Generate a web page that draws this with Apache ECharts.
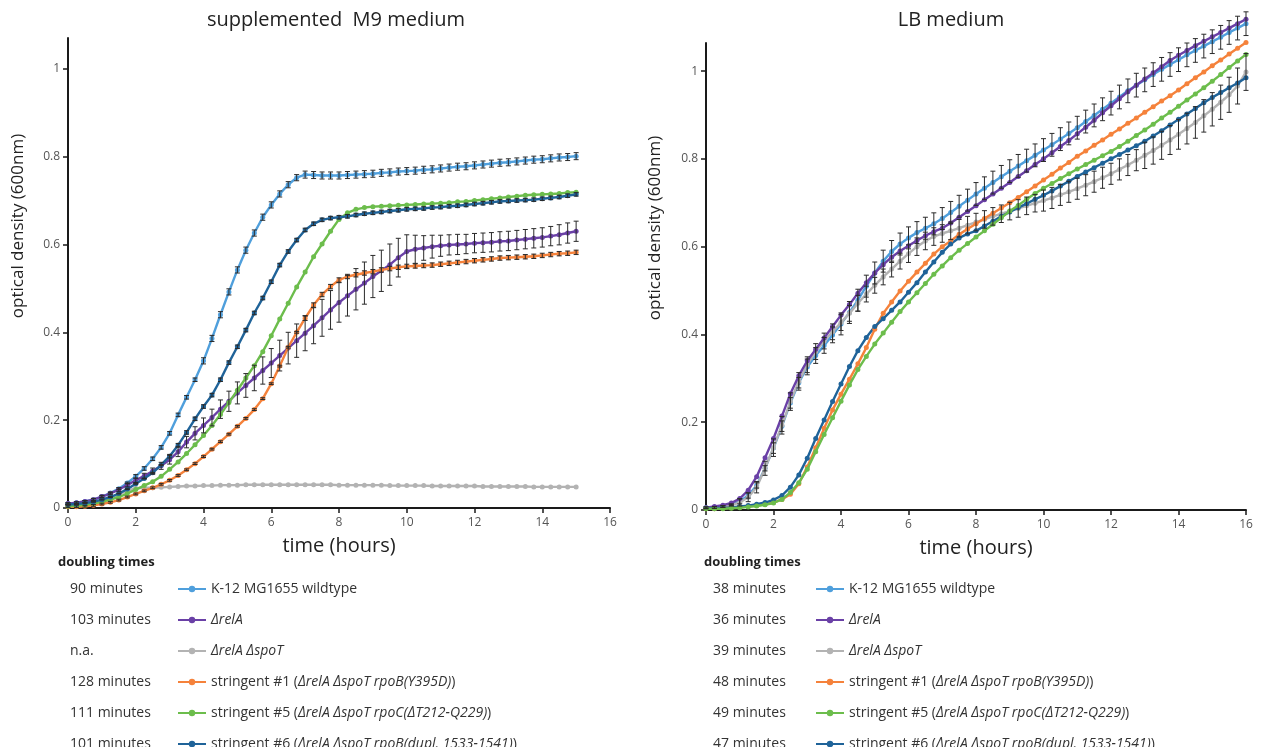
<!DOCTYPE html>
<html>
<head>
<meta charset="utf-8">
<title>Growth curves</title>
<script src="https://cdn.jsdelivr.net/npm/echarts@6/dist/echarts.min.js"></script>
<style>
  html, body { margin: 0; padding: 0; background: #fff; }
  #chart { width: 1261px; height: 755px; }
</style>
</head>
<body>
<div id="chart"></div>
<script>
// Sampling times (hours), one reading every 15 minutes
const hours = [0,0.25,0.5,0.75,1,1.25,1.5,1.75,2,2.25,2.5,2.75,3,3.25,3.5,3.75,4,4.25,4.5,4.75,5,5.25,5.5,5.75,6,6.25,6.5,6.75,7,7.25,7.5,7.75,8,8.25,8.5,8.75,9,9.25,9.5,9.75,10,10.25,10.5,10.75,11,11.25,11.5,11.75,12,12.25,12.5,12.75,13,13.25,13.5,13.75,14,14.25,14.5,14.75,15,15.25,15.5,15.75,16];

const xTicks = [0, 2, 4, 6, 8, 10, 12, 14, 16];
const yTicks = [0, 0.2, 0.4, 0.6, 0.8, 1];

// Strains (series names) and their colours
const strains = [
  'K-12 MG1655 wildtype',
  'ΔrelA',
  'ΔrelA ΔspoT',
  'stringent #1 (ΔrelA ΔspoT rpoB(Y395D))',
  'stringent #5 (ΔrelA ΔspoT rpoC(ΔT212-Q229))',
  'stringent #6 (ΔrelA ΔspoT rpoB(dupl. 1533-1541))'
];
const strainColors = ['#4f9fdc', '#6a40a6', '#b3b3b3', '#f5823b', '#6cbd4c', '#1f6399'];
const strainLabels = [
  'K-12 MG1655 wildtype',
  '{i|ΔrelA}',
  '{i|ΔrelA ΔspoT}',
  'stringent #1 ({i|ΔrelA ΔspoT rpoB(Y395D)})',
  'stringent #5 ({i|ΔrelA ΔspoT rpoC(ΔT212-Q229)})',
  'stringent #6 ({i|ΔrelA ΔspoT rpoB(dupl. 1533-1541)})'
];

// Doubling times per medium
const doublingM9 = ['90 minutes', '103 minutes', 'n.a.', '128 minutes', '111 minutes', '101 minutes'];
const doublingLB = ['38 minutes', '36 minutes', '39 minutes', '48 minutes', '49 minutes', '47 minutes'];

// ---- supplemented M9 medium, OD600, 0-15 h ----
const m9Wildtype = [0.010,0.012,0.015,0.019,0.026,0.034,0.044,0.057,0.072,0.090,0.112,0.138,0.170,0.212,0.252,0.292,0.335,0.386,0.440,0.492,0.542,0.587,0.626,0.662,0.690,0.715,0.736,0.752,0.759,0.758,0.757,0.757,0.757,0.758,0.759,0.760,0.761,0.763,0.764,0.766,0.767,0.768,0.770,0.771,0.773,0.775,0.777,0.778,0.780,0.782,0.784,0.786,0.787,0.789,0.791,0.793,0.794,0.796,0.798,0.799,0.801];
const m9RelA = [0.010,0.012,0.015,0.019,0.026,0.033,0.042,0.052,0.063,0.073,0.084,0.096,0.110,0.128,0.150,0.170,0.188,0.206,0.225,0.243,0.262,0.279,0.296,0.313,0.330,0.347,0.364,0.381,0.398,0.415,0.433,0.451,0.468,0.483,0.498,0.512,0.527,0.540,0.554,0.570,0.584,0.589,0.592,0.595,0.597,0.599,0.600,0.601,0.603,0.604,0.605,0.607,0.608,0.610,0.612,0.614,0.616,0.619,0.622,0.626,0.630];
const m9RelASpoT = [0.010,0.010,0.011,0.013,0.017,0.023,0.031,0.039,0.045,0.046,0.046,0.047,0.048,0.049,0.050,0.050,0.051,0.051,0.052,0.052,0.052,0.053,0.053,0.053,0.053,0.053,0.053,0.053,0.053,0.053,0.053,0.053,0.052,0.052,0.052,0.052,0.052,0.052,0.051,0.051,0.051,0.051,0.051,0.050,0.050,0.050,0.050,0.050,0.050,0.049,0.049,0.049,0.049,0.049,0.049,0.048,0.048,0.048,0.048,0.048,0.048];
const m9Stringent1 = [0.003,0.003,0.004,0.006,0.009,0.013,0.018,0.025,0.032,0.039,0.046,0.054,0.063,0.074,0.087,0.101,0.117,0.134,0.151,0.168,0.186,0.204,0.224,0.249,0.283,0.323,0.366,0.400,0.432,0.462,0.486,0.504,0.519,0.527,0.531,0.535,0.538,0.542,0.545,0.548,0.550,0.551,0.552,0.553,0.555,0.557,0.559,0.561,0.563,0.565,0.567,0.569,0.570,0.571,0.572,0.573,0.575,0.577,0.579,0.580,0.582];
const m9Stringent5 = [0.004,0.005,0.007,0.010,0.014,0.019,0.025,0.033,0.042,0.051,0.060,0.072,0.088,0.105,0.124,0.144,0.165,0.188,0.213,0.240,0.268,0.296,0.324,0.356,0.392,0.430,0.466,0.503,0.537,0.572,0.601,0.630,0.657,0.672,0.680,0.684,0.686,0.687,0.688,0.689,0.690,0.691,0.692,0.693,0.694,0.695,0.697,0.698,0.700,0.702,0.704,0.706,0.708,0.710,0.712,0.713,0.714,0.715,0.716,0.718,0.719];
const m9Stringent6 = [0.008,0.009,0.011,0.014,0.019,0.025,0.033,0.043,0.055,0.067,0.080,0.098,0.118,0.143,0.172,0.203,0.231,0.257,0.292,0.331,0.367,0.405,0.444,0.478,0.515,0.553,0.584,0.610,0.633,0.647,0.656,0.660,0.662,0.664,0.667,0.670,0.672,0.674,0.676,0.678,0.680,0.681,0.682,0.684,0.685,0.687,0.688,0.690,0.692,0.694,0.696,0.698,0.699,0.700,0.701,0.702,0.704,0.706,0.708,0.711,0.714];

// Standard deviations (M9)
const m9WildtypeSd = [0.002,0.002,0.002,0.002,0.002,0.002,0.002,0.002,0.004,0.004,0.004,0.004,0.004,0.004,0.004,0.004,0.007,0.007,0.007,0.007,0.007,0.007,0.007,0.007,0.007,0.007,0.007,0.007,0.008,0.008,0.008,0.008,0.008,0.008,0.008,0.008,0.008,0.008,0.008,0.008,0.008,0.008,0.008,0.008,0.008,0.008,0.008,0.008,0.008,0.008,0.008,0.008,0.008,0.008,0.008,0.008,0.008,0.008,0.008,0.008,0.008];
const m9RelASd = [0.002,0.002,0.002,0.003,0.003,0.003,0.004,0.004,0.005,0.006,0.007,0.008,0.010,0.011,0.013,0.015,0.017,0.019,0.021,0.023,0.025,0.027,0.029,0.031,0.033,0.035,0.036,0.038,0.040,0.041,0.042,0.044,0.045,0.046,0.047,0.048,0.048,0.047,0.047,0.044,0.038,0.032,0.028,0.026,0.024,0.023,0.023,0.022,0.022,0.022,0.022,0.022,0.022,0.022,0.022,0.022,0.022,0.022,0.023,0.023,0.023];
const m9Stringent1Sd = [0.002,0.002,0.002,0.002,0.002,0.002,0.002,0.002,0.002,0.002,0.002,0.002,0.002,0.002,0.002,0.002,0.002,0.002,0.002,0.002,0.002,0.002,0.002,0.002,0.002,0.002,0.002,0.002,0.005,0.005,0.005,0.005,0.005,0.005,0.005,0.005,0.005,0.005,0.005,0.005,0.005,0.005,0.005,0.005,0.005,0.005,0.005,0.005,0.005,0.005,0.005,0.005,0.005,0.005,0.005,0.005,0.005,0.005,0.005,0.005,0.005];
const m9Stringent6Sd = [0.001,0.001,0.001,0.001,0.001,0.001,0.001,0.001,0.001,0.001,0.001,0.001,0.004,0.004,0.004,0.004,0.004,0.004,0.004,0.004,0.004,0.004,0.004,0.004,0.004,0.004,0.004,0.004,0.004,0.004,0.004,0.004,0.004,0.004,0.004,0.004,0.004,0.004,0.004,0.004,0.004,0.004,0.004,0.004,0.004,0.004,0.004,0.004,0.004,0.004,0.004,0.004,0.004,0.004,0.004,0.004,0.004,0.004,0.004,0.004,0.004];

// ---- LB medium, OD600, 0-16 h ----
const lbWildtype = [0.005,0.006,0.008,0.012,0.020,0.033,0.056,0.095,0.141,0.191,0.244,0.290,0.326,0.352,0.375,0.399,0.424,0.450,0.478,0.510,0.540,0.567,0.589,0.606,0.620,0.632,0.642,0.652,0.664,0.678,0.692,0.706,0.720,0.733,0.746,0.759,0.772,0.784,0.796,0.808,0.820,0.832,0.845,0.858,0.871,0.885,0.899,0.913,0.927,0.941,0.955,0.968,0.980,0.992,1.004,1.015,1.026,1.037,1.047,1.057,1.067,1.077,1.088,1.098,1.108];
const lbRelA = [0.005,0.008,0.011,0.016,0.026,0.045,0.076,0.119,0.163,0.214,0.265,0.306,0.340,0.366,0.392,0.418,0.444,0.468,0.494,0.518,0.540,0.559,0.576,0.590,0.602,0.614,0.625,0.634,0.642,0.654,0.667,0.680,0.693,0.707,0.720,0.733,0.746,0.760,0.773,0.787,0.800,0.814,0.828,0.842,0.857,0.872,0.888,0.905,0.921,0.937,0.953,0.968,0.982,0.996,1.010,1.024,1.036,1.047,1.058,1.068,1.078,1.088,1.098,1.108,1.118];
const lbRelASpoT = [0.005,0.006,0.008,0.011,0.017,0.029,0.052,0.095,0.142,0.193,0.247,0.293,0.331,0.361,0.385,0.406,0.427,0.448,0.471,0.492,0.512,0.531,0.549,0.567,0.584,0.600,0.613,0.623,0.630,0.636,0.642,0.649,0.656,0.662,0.669,0.675,0.681,0.687,0.693,0.699,0.705,0.711,0.718,0.725,0.732,0.740,0.748,0.757,0.766,0.776,0.786,0.797,0.808,0.819,0.831,0.843,0.856,0.869,0.883,0.898,0.913,0.929,0.946,0.966,0.998];
const lbStringent1 = [0.003,0.003,0.004,0.005,0.006,0.008,0.010,0.013,0.017,0.024,0.036,0.060,0.098,0.142,0.186,0.228,0.264,0.298,0.333,0.370,0.412,0.448,0.474,0.499,0.521,0.542,0.562,0.583,0.600,0.613,0.628,0.640,0.652,0.664,0.676,0.688,0.700,0.712,0.725,0.738,0.752,0.765,0.779,0.792,0.806,0.818,0.831,0.843,0.856,0.868,0.881,0.893,0.906,0.919,0.932,0.944,0.957,0.971,0.985,0.998,1.012,1.025,1.039,1.052,1.065];
const lbStringent5 = [0.003,0.003,0.003,0.004,0.005,0.007,0.009,0.012,0.016,0.024,0.040,0.062,0.093,0.133,0.172,0.210,0.248,0.285,0.320,0.350,0.378,0.403,0.428,0.452,0.474,0.495,0.516,0.537,0.556,0.575,0.592,0.607,0.622,0.636,0.651,0.666,0.681,0.694,0.708,0.721,0.733,0.744,0.755,0.766,0.777,0.787,0.797,0.807,0.817,0.828,0.840,0.853,0.866,0.879,0.893,0.906,0.920,0.934,0.948,0.962,0.977,0.992,1.008,1.023,1.038];
const lbStringent6 = [0.004,0.004,0.005,0.006,0.008,0.010,0.013,0.017,0.023,0.033,0.052,0.080,0.118,0.163,0.205,0.247,0.287,0.327,0.363,0.393,0.418,0.436,0.455,0.474,0.496,0.518,0.542,0.565,0.587,0.606,0.620,0.629,0.636,0.647,0.658,0.669,0.679,0.689,0.698,0.708,0.717,0.727,0.738,0.749,0.760,0.770,0.780,0.790,0.800,0.810,0.820,0.830,0.840,0.852,0.864,0.877,0.890,0.902,0.915,0.928,0.940,0.951,0.962,0.973,0.985];

// Standard deviations (LB)
const lbWildtypeSd = [0.002,0.002,0.002,0.002,0.006,0.006,0.006,0.006,0.012,0.012,0.012,0.012,0.018,0.018,0.018,0.018,0.025,0.025,0.025,0.025,0.025,0.025,0.025,0.025,0.025,0.025,0.025,0.025,0.025,0.025,0.025,0.025,0.026,0.026,0.026,0.026,0.026,0.026,0.026,0.026,0.026,0.026,0.026,0.026,0.026,0.026,0.026,0.026,0.027,0.027,0.027,0.027,0.027,0.027,0.027,0.027,0.027,0.027,0.027,0.027,0.027,0.027,0.027,0.027,0.027];
const lbRelASpoTSd = [0.002,0.002,0.002,0.002,0.008,0.010,0.013,0.016,0.020,0.020,0.020,0.020,0.018,0.018,0.018,0.018,0.018,0.018,0.018,0.018,0.018,0.018,0.018,0.018,0.020,0.020,0.020,0.020,0.020,0.020,0.020,0.020,0.020,0.020,0.020,0.020,0.020,0.020,0.020,0.020,0.024,0.024,0.024,0.024,0.024,0.024,0.024,0.024,0.024,0.024,0.024,0.024,0.030,0.031,0.032,0.033,0.034,0.035,0.036,0.037,0.038,0.039,0.040,0.041,0.042];

const FONT = '"Open Sans", "Liberation Sans", sans-serif';

const m9Sets = [m9Wildtype, m9RelA, m9RelASpoT, m9Stringent1, m9Stringent5, m9Stringent6];
const lbSets = [lbWildtype, lbRelA, lbRelASpoT, lbStringent1, lbStringent5, lbStringent6];

function pairs(values) {
  return values.map((v, i) => [hours[i], v]);
}
function bars(values, sd) {
  return values.map((v, i) => [hours[i], v - sd[i], v + sd[i]]);
}

// vertical whisker with short caps at both ends
function renderErrorBar(params, api) {
  const x = api.value(0);
  const lo = api.coord([x, api.value(1)]);
  const hi = api.coord([x, api.value(2)]);
  const cap = 2.5;
  const style = { stroke: '#2a2a2a', lineWidth: 1 };
  return {
    type: 'group',
    children: [
      { type: 'line', shape: { x1: lo[0], y1: lo[1], x2: hi[0], y2: hi[1] }, style },
      { type: 'line', shape: { x1: lo[0] - cap, y1: lo[1], x2: lo[0] + cap, y2: lo[1] }, style },
      { type: 'line', shape: { x1: hi[0] - cap, y1: hi[1], x2: hi[0] + cap, y2: hi[1] }, style }
    ]
  };
}

function lineSeries(gridIdx, sets, zOrder) {
  return sets.map((vals, k) => ({
    name: strains[k],
    type: 'line',
    xAxisIndex: gridIdx,
    yAxisIndex: gridIdx,
    data: pairs(vals),
    symbol: 'circle',
    symbolSize: 5,
    clip: false,
    z: zOrder[k],
    lineStyle: { width: 2.4, color: strainColors[k] },
    itemStyle: { color: strainColors[k] },
    emphasis: { disabled: true },
    animation: false
  }));
}

function errorSeries(gridIdx, values, sd) {
  return {
    type: 'custom',
    xAxisIndex: gridIdx,
    yAxisIndex: gridIdx,
    data: bars(values, sd),
    encode: { x: 0, y: [1, 2] },
    renderItem: renderErrorBar,
    silent: true,
    z: 10,
    animation: false
  };
}

const axisLineStyle = { show: true, lineStyle: { color: '#1a1a1a', width: 2 } };
const tickStyle = { show: true, length: 5, lineStyle: { color: '#1a1a1a', width: 1.5 } };
const tickLabel = { color: '#555', fontSize: 12, fontFamily: FONT };

function xAxisFor(gridIdx) {
  return {
    type: 'value', gridIndex: gridIdx, min: 0, max: 16, interval: 2,
    axisLine: axisLineStyle,
    axisTick: Object.assign({}, tickStyle, { customValues: xTicks }),
    axisLabel: Object.assign({}, tickLabel, { margin: 9, customValues: xTicks }),
    splitLine: { show: false },
    name: 'time (hours)', nameLocation: 'middle', nameGap: 28,
    nameTextStyle: { fontSize: 20, color: '#222', fontFamily: FONT }
  };
}
function yAxisFor(gridIdx, max) {
  return {
    type: 'value', gridIndex: gridIdx, min: 0, max: max,
    axisLine: axisLineStyle,
    axisTick: Object.assign({}, tickStyle, { customValues: yTicks }),
    axisLabel: Object.assign({}, tickLabel, {
      margin: 8, customValues: yTicks,
      formatter: v => (v === 0 || v === 1) ? String(v) : v.toFixed(1)
    }),
    splitLine: { show: false }
  };
}

function legendFor(left) {
  return {
    data: strains,
    orient: 'vertical',
    left: left,
    top: 582,
    padding: 0,
    itemGap: 17,
    itemWidth: 28,
    itemHeight: 8,
    selectedMode: false,
    formatter: name => strainLabels[strains.indexOf(name)],
    textStyle: {
      color: '#333', fontSize: 14, fontFamily: FONT, lineHeight: 14,
      rich: { i: { fontStyle: 'italic', color: '#333', fontSize: 14, fontFamily: FONT, lineHeight: 14 } }
    }
  };
}

function textEl(text, x, y, opts) {
  return {
    type: 'text', x: x, y: y, z: 50,
    style: Object.assign({
      text: text, fill: '#333', font: '14px ' + FONT,
      textAlign: 'left', textVerticalAlign: 'middle'
    }, opts || {})
  };
}

const graphics = [
  textEl('supplemented  M9 medium', 336, 20, { font: '20px ' + FONT, fill: '#222', textAlign: 'center' }),
  textEl('LB medium', 951, 20, { font: '20px ' + FONT, fill: '#222', textAlign: 'center' }),
  Object.assign(textEl('optical density (600nm)', 18, 226, { font: '17px ' + FONT, fill: '#222', textAlign: 'center' }), { rotation: Math.PI / 2 }),
  Object.assign(textEl('optical density (600nm)', 655, 228, { font: '17px ' + FONT, fill: '#222', textAlign: 'center' }), { rotation: Math.PI / 2 }),
  textEl('doubling times', 58, 562, { font: 'bold 13px ' + FONT, fill: '#222' }),
  textEl('doubling times', 704, 562, { font: 'bold 13px ' + FONT, fill: '#222' })
];
doublingM9.forEach((t, i) => graphics.push(textEl(t, 70, 589 + 31 * i)));
doublingLB.forEach((t, i) => graphics.push(textEl(t, 713, 589 + 31 * i)));
// bottom edge of the figure cuts through the last legend row
graphics.push({ type: 'rect', z: 100, shape: { x: 0, y: 747, width: 1261, height: 10 }, style: { fill: '#fff' } });

const chart = echarts.init(document.getElementById('chart'), null, { renderer: 'canvas' });
chart.setOption({
  backgroundColor: '#fff',
  animation: false,
  grid: [
    { left: 68, top: 38, width: 542, height: 470 },
    { left: 706, top: 43, width: 540, height: 467 }
  ],
  xAxis: [xAxisFor(0), xAxisFor(1)],
  yAxis: [yAxisFor(0, 1.07), yAxisFor(1, 1.064)],
  legend: [legendFor(177), legendFor(815)],
  graphic: graphics,
  series: [].concat(
    lineSeries(0, m9Sets, [3, 4, 2, 5, 6, 7]),
    [errorSeries(0, m9Wildtype, m9WildtypeSd),
     errorSeries(0, m9RelA, m9RelASd),
     errorSeries(0, m9Stringent1, m9Stringent1Sd),
     errorSeries(0, m9Stringent6, m9Stringent6Sd)],
    lineSeries(1, lbSets, [3, 5, 4, 6, 7, 6]),
    [errorSeries(1, lbWildtype, lbWildtypeSd),
     errorSeries(1, lbRelASpoT, lbRelASpoTSd)]
  )
});
</script>
</body>
</html>
